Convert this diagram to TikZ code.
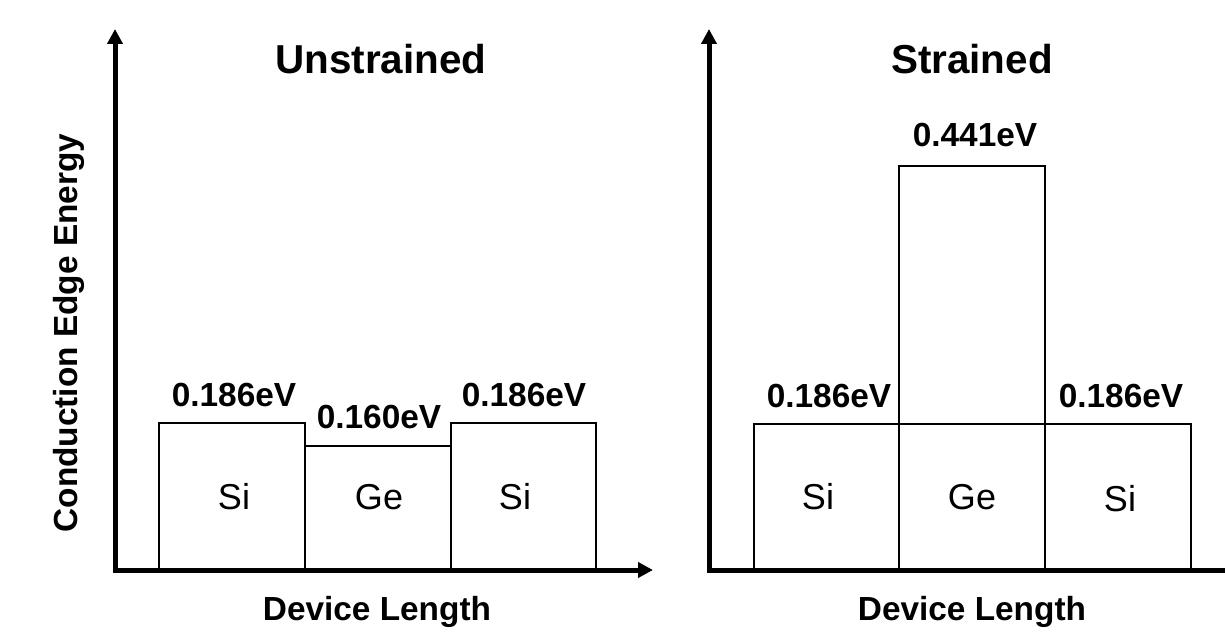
\documentclass[tikz,border=0pt]{standalone}
\usepackage{fontspec}
\setmainfont{Liberation Sans}
\usetikzlibrary{arrows.meta}

\begin{document}
\begin{tikzpicture}[x=0.02cm, y=-0.02cm,
	axis/.style={line width=0.1cm, line cap=rect, -{Triangle[length=0.3cm, width=0.3cm]}},
	band/.style={draw, line width=0.9pt},
	title/.style={font=\fontsize{23}{27}\selectfont\bfseries, anchor=base},
	lbl/.style={font=\fontsize{19}{23}\selectfont\bfseries, anchor=base},
	mat/.style={font=\fontsize{20.5}{24}\selectfont, anchor=base}]
	\useasboundingbox (0,0) rectangle (1225,642);

	% unstrained
	\coordinate (oL) at (115,570);
	\coordinate (yL) at (115,29);
	\coordinate (xL) at (653,570);
	\draw[band] (159,570) rectangle (305,423);
	\draw[band] (305,570) rectangle (451,446);
	\draw[band] (451,570) rectangle (596,423);
	\draw[axis] (oL) -- (yL);
	\draw[axis] (oL) -- (xL);

	\node[title] (tL) at (381,74) {Unstrained};
	\node[lbl] (eL1) at (234,406) {0.186eV};
	\node[lbl] (eL2) at (379,428) {0.160eV};
	\node[lbl] (eL3) at (524,406) {0.186eV};
	\node[mat] (siL1) at (234,509) {Si};
	\node[mat] (geL) at (379,509) {Ge};
	\node[mat] (siL2) at (515,509) {Si};
	\node[lbl] (xlabL) at (377,620) {Device Length};
	\node[lbl, rotate=90] (ylab) at (77,333) {Conduction Edge Energy};

	% strained
	\coordinate (oR) at (709,570);
	\coordinate (yR) at (709,29);
	\coordinate (xR) at (1225,570);
	\draw[band] (754,570) rectangle (899,424);
	\draw[band] (899,570) rectangle (1045,424);
	\draw[band] (1045,570) rectangle (1191,424);
	\draw[band] (899,424) rectangle (1045,166);
	\draw[axis] (oR) -- (yR);
	\draw[line width=0.1cm, line cap=rect] (oR) -- (xR);

	\node[title] (tR) at (972,74) {Strained};
	\node[lbl] (eR1) at (829,407) {0.186eV};
	\node[lbl] (eR2) at (975,147) {0.441eV};
	\node[lbl] (eR3) at (1121,407) {0.186eV};
	\node[mat] (siR1) at (818,509) {Si};
	\node[mat] (geR) at (972,509) {Ge};
	\node[mat] (siR2) at (1120,511) {Si};
	\node[lbl] (xlabR) at (972,620) {Device Length};
\end{tikzpicture}
\end{document}
